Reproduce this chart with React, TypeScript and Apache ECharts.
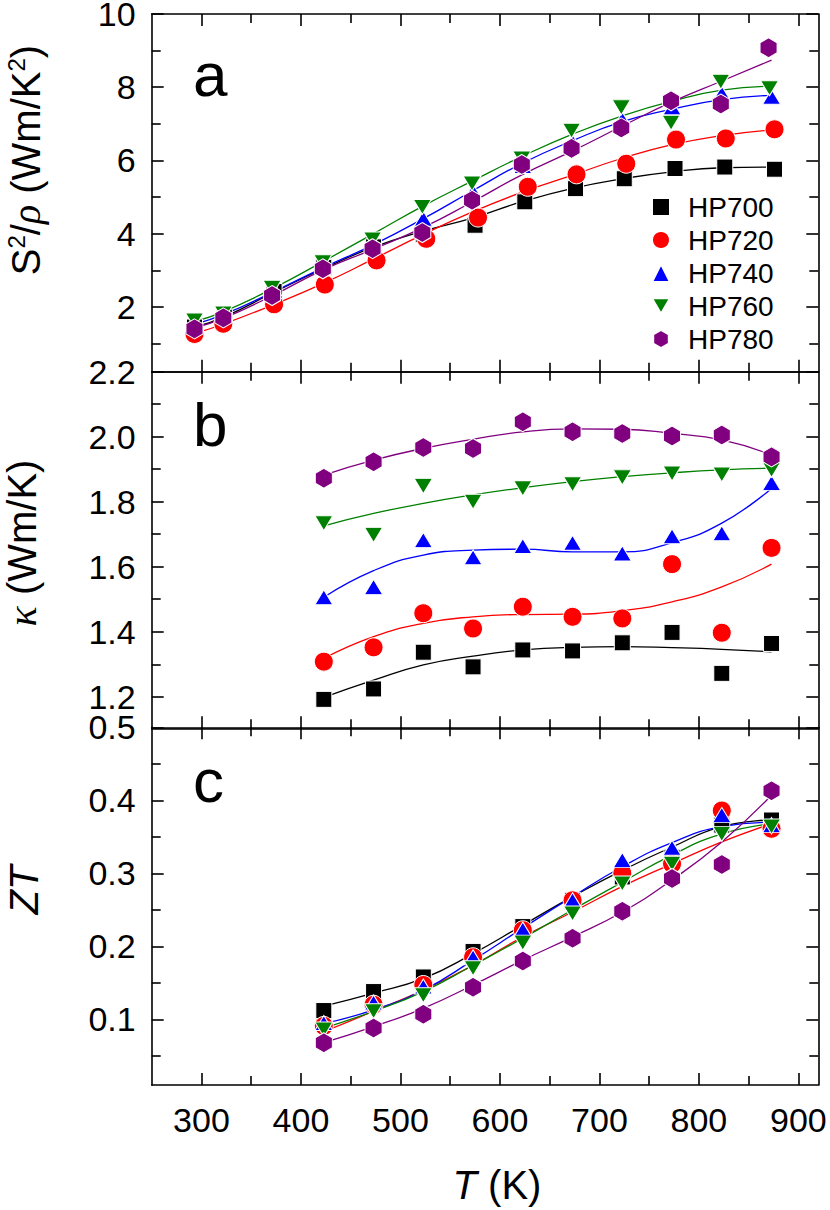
import React, { useEffect, useRef } from "react";
import * as echarts from "echarts";

// ---------- data ----------
const SAMPLES = ["HP700", "HP720", "HP740", "HP760", "HP780"];
const COLORS = ["#000000", "#ff0000", "#0000ff", "#008000", "#800080"];

// panel a : S^2/rho
const TA_700 = [293, 323, 373, 423, 473, 523, 575, 625, 676, 725, 776, 826, 876];
const TA_720 = [293, 322, 373, 424, 476, 526, 578, 628, 677, 727, 777, 827, 876];
const TA_740 = [293, 323, 373, 423, 473, 523, 573, 623, 673, 723, 773, 823, 873];
const TA_760 = [293, 322, 371, 422, 472, 522, 572, 622, 672, 722, 772, 822, 871];
const TA_780 = [293, 322, 371, 422, 472, 522, 572, 622, 672, 722, 772, 822, 870];
const A_700 = [1.45, 1.72, 2.42, 3.08, 3.64, 3.98, 4.23, 4.87, 5.23, 5.5, 5.78, 5.82, 5.76];
const A_720 = [1.26, 1.54, 2.07, 2.61, 3.27, 3.86, 4.44, 5.28, 5.62, 5.91, 6.57, 6.6, 6.85];
const A_740 = [1.55, 1.78, 2.45, 3.15, 3.72, 4.41, 5.15, 5.85, 6.5, 7.12, 7.45, 7.83, 7.74];
const A_760 = [1.63, 1.82, 2.52, 3.22, 3.84, 4.73, 5.37, 6.05, 6.81, 7.45, 7.03, 8.15, 7.97];
const A_780 = [1.4, 1.7, 2.31, 3.04, 3.59, 4.03, 4.91, 5.89, 6.33, 6.89, 7.63, 7.54, 9.08];
const TA_FIT = [293, 323, 373, 423, 473, 523, 573, 623, 673, 723, 773, 823, 873];
const FA_700 = [1.45, 1.73, 2.4, 3.05, 3.63, 4.07, 4.43, 4.88, 5.24, 5.5, 5.69, 5.8, 5.82];
const FA_720 = [1.27, 1.54, 2.07, 2.65, 3.31, 3.98, 4.6, 5.14, 5.6, 6.06, 6.43, 6.68, 6.83];
const FA_740 = [1.52, 1.8, 2.42, 3.08, 3.7, 4.41, 5.18, 5.93, 6.54, 7.06, 7.4, 7.66, 7.78];
const FA_760 = [1.6, 1.88, 2.52, 3.25, 4.0, 4.76, 5.45, 6.12, 6.72, 7.22, 7.62, 7.92, 8.03];
const FA_780 = [1.42, 1.7, 2.33, 3.02, 3.58, 4.17, 4.88, 5.62, 6.26, 6.94, 7.6, 8.17, 8.74];

// panels b and c share temperatures
const T_BC = [423, 473, 523, 573, 623, 673, 723, 773, 823, 873];

// panel b : kappa
const B_700 = [1.192, 1.224, 1.337, 1.292, 1.344, 1.341, 1.366, 1.398, 1.272, 1.364];
const B_720 = [1.308, 1.352, 1.457, 1.41, 1.477, 1.446, 1.441, 1.608, 1.397, 1.658];
const B_740 = [1.506, 1.538, 1.682, 1.629, 1.664, 1.674, 1.641, 1.694, 1.703, 1.858];
const B_760 = [1.734, 1.698, 1.848, 1.8, 1.841, 1.854, 1.875, 1.887, 1.884, 1.898];
const B_780 = [1.872, 1.923, 1.967, 1.964, 2.046, 2.015, 2.01, 2.002, 2.005, 1.938];
const FB_700 = [1.198, 1.251, 1.298, 1.325, 1.344, 1.352, 1.354, 1.351, 1.346, 1.338];
const FB_720 = [1.318, 1.385, 1.426, 1.446, 1.453, 1.454, 1.465, 1.492, 1.538, 1.608];
const FB_740 = [1.506, 1.588, 1.636, 1.651, 1.654, 1.646, 1.646, 1.674, 1.734, 1.841];
const FB_760 = [1.726, 1.764, 1.795, 1.821, 1.843, 1.862, 1.877, 1.889, 1.898, 1.903];
const FB_780 = [1.882, 1.928, 1.964, 1.992, 2.015, 2.024, 2.023, 2.01, 1.99, 1.944];

// panel c : ZT
const C_700 = [0.112, 0.138, 0.158, 0.193, 0.227, 0.263, 0.295, 0.322, 0.366, 0.373];
const C_720 = [0.091, 0.12, 0.147, 0.185, 0.222, 0.263, 0.3, 0.313, 0.386, 0.361];
const C_740 = [0.095, 0.123, 0.145, 0.185, 0.223, 0.263, 0.318, 0.335, 0.38, 0.366];
const C_760 = [0.086, 0.111, 0.133, 0.17, 0.205, 0.245, 0.286, 0.313, 0.354, 0.364];
const C_780 = [0.068, 0.088, 0.107, 0.144, 0.18, 0.211, 0.248, 0.293, 0.312, 0.413];
const FC_700 = [0.118, 0.136, 0.156, 0.19, 0.229, 0.268, 0.304, 0.336, 0.364, 0.373];
const FC_720 = [0.083, 0.111, 0.14, 0.174, 0.213, 0.247, 0.282, 0.313, 0.343, 0.368];
const FC_740 = [0.094, 0.113, 0.14, 0.181, 0.225, 0.268, 0.309, 0.342, 0.364, 0.37];
const FC_760 = [0.088, 0.111, 0.138, 0.174, 0.211, 0.25, 0.288, 0.325, 0.354, 0.368];
const FC_780 = [0.068, 0.09, 0.115, 0.147, 0.181, 0.213, 0.247, 0.291, 0.343, 0.407];

// ticks
const X_MAJOR = [300, 400, 500, 600, 700, 800, 900];
const X_MINOR = [350, 450, 550, 650, 750, 850];
const YA_MAJOR = [2, 4, 6, 8, 10];
const YA_MINOR = [1, 3, 5, 7, 9];
const YB_MAJOR = [1.2, 1.4, 1.6, 1.8, 2.0, 2.2];
const YB_MINOR = [1.3, 1.5, 1.7, 1.9, 2.1];
const YC_MAJOR = [0.1, 0.2, 0.3, 0.4, 0.5];
const YC_MINOR = [0.05, 0.15, 0.25, 0.35, 0.45];

// ---------- styling ----------
const FONT = '"Liberation Sans", Arial, sans-serif';
const SERIF = '"Liberation Serif", "DejaVu Serif", serif';
const HEX = "path://M1,0 L1.866,0.5 L1.866,1.5 L1,2 L0.134,1.5 L0.134,0.5 Z";
const DOWN_TRI = "path://M0,0 L2,0 L1,1.7 Z";
const SYMBOLS: any[] = ["rect", "circle", "triangle", DOWN_TRI, HEX];
const SIZES: any[] = [16, 19, [18, 15], [18, 15], [17, 20]];

const LEFT = 151.7;
const RIGHT = 830 - 818.3;
const GRIDS = [
  { top: 14, height: 357.7 },
  { top: 371.7, height: 356.6 },
  { top: 727.3, height: 357.7 },
];
const AXIS_LINE = { color: "#000", width: 1.6 };

function xAxes(g: number, showLabels: boolean) {
  const base = {
    type: "value",
    gridIndex: g,
    min: 250,
    max: 920,
    splitLine: { show: false },
  };
  const major = (pos: string, labels: boolean) => ({
    ...base,
    position: pos,
    axisLine: { show: true, onZero: false, lineStyle: AXIS_LINE },
    axisTick: { show: true, inside: true, length: 12, customValues: X_MAJOR, lineStyle: AXIS_LINE },
    axisLabel: {
      show: labels,
      customValues: X_MAJOR,
      fontSize: 34,
      fontFamily: FONT,
      color: "#000",
      margin: 18,
    },
  });
  const minor = (pos: string) => ({
    ...base,
    position: pos,
    axisLine: { show: false, onZero: false },
    axisTick: { show: true, inside: true, length: 9, customValues: X_MINOR, lineStyle: AXIS_LINE },
    axisLabel: { show: false },
  });
  return [major("bottom", showLabels), major("top", false), minor("bottom"), minor("top")];
}

function yAxes(g: number, min: number, max: number, majorV: number[], minorV: number[], digits: number) {
  const base = {
    type: "value",
    gridIndex: g,
    min,
    max,
    splitLine: { show: false },
  };
  const major = (pos: string, labels: boolean) => ({
    ...base,
    position: pos,
    axisLine: { show: true, onZero: false, lineStyle: AXIS_LINE },
    axisTick: { show: true, inside: true, length: 12, customValues: majorV, lineStyle: AXIS_LINE },
    axisLabel: {
      show: labels,
      customValues: majorV,
      fontSize: 34,
      fontFamily: FONT,
      color: "#000",
      margin: 16,
      formatter: (v: number) => v.toFixed(digits),
    },
  });
  const minor = (pos: string) => ({
    ...base,
    position: pos,
    axisLine: { show: false, onZero: false },
    axisTick: { show: true, inside: true, length: 9, customValues: minorV, lineStyle: AXIS_LINE },
    axisLabel: { show: false },
  });
  return [major("left", true), major("right", false), minor("left"), minor("right")];
}

function pairs(xs: number[], ys: number[]) {
  return ys.map((y, i) => [xs[i], y]);
}

function panelSeries(g: number, xsList: number[][], data: number[][], fitX: number[], fits: number[][]) {
  const out: any[] = [];
  fits.forEach((f, i) => {
    out.push({
      type: "line",
      name: "fit-" + SAMPLES[i] + "-" + g,
      xAxisIndex: g * 4,
      yAxisIndex: g * 4,
      data: pairs(fitX, f),
      smooth: true,
      showSymbol: false,
      symbol: "none",
      lineStyle: { color: COLORS[i], width: 1.3 },
      z: 2,
      silent: true,
    });
  });
  data.forEach((d, i) => {
    out.push({
      type: "scatter",
      name: SAMPLES[i],
      xAxisIndex: g * 4,
      yAxisIndex: g * 4,
      data: pairs(xsList[i], d),
      symbol: SYMBOLS[i],
      symbolSize: SIZES[i],
      itemStyle: { color: COLORS[i], borderColor: "#ffffff", borderWidth: 1, opacity: 1 },
      z: 3 + i,
    });
  });
  return out;
}

function vtext(text: string, x: number, y: number, rich: any) {
  return {
    type: "text",
    x,
    y,
    rotation: Math.PI / 2,
    style: {
      text,
      rich,
      fill: "#000",
      align: "center",
      verticalAlign: "middle",
      textAlign: "center",
      textVerticalAlign: "middle",
    },
  };
}

function letter(t: string, y: number) {
  return {
    type: "text",
    x: 193,
    y,
    style: {
      text: t,
      fill: "#000",
      font: `62px ${FONT}`,
      fontSize: 62,
      fontFamily: FONT,
      align: "left",
      verticalAlign: "middle",
      textAlign: "left",
      textVerticalAlign: "middle",
    },
  };
}

export default function App() {
  const ref = useRef<HTMLDivElement>(null);

  useEffect(() => {
    if (!ref.current) return;
    const chart = echarts.init(ref.current, undefined, { renderer: "svg" });

    const N = { fontSize: 40, fontFamily: FONT, lineHeight: 44 };
    const SUP = { fontSize: 24, fontFamily: FONT, verticalAlign: "top", lineHeight: 44, padding: [0, 0, 14, 0] };

    const option: any = {
      animation: false,
      backgroundColor: "#ffffff",
      grid: GRIDS.map((gr) => ({
        left: LEFT,
        right: RIGHT,
        top: gr.top,
        height: gr.height,
        containLabel: false,
        outerBoundsMode: "none",
        show: false,
      })),
      xAxis: [...xAxes(0, false), ...xAxes(1, false), ...xAxes(2, true)],
      yAxis: [
        ...yAxes(0, 0.23, 10, YA_MAJOR, YA_MINOR, 0),
        ...yAxes(1, 1.103, 2.2, YB_MAJOR, YB_MINOR, 1),
        ...yAxes(2, 0.01, 0.5, YC_MAJOR, YC_MINOR, 1),
      ],
      legend: {
        data: SAMPLES,
        orient: "vertical",
        left: 646,
        top: 188,
        itemWidth: 18,
        itemHeight: 18,
        itemGap: 5,
        selectedMode: false,
        textStyle: {
          fontSize: 28,
          lineHeight: 28,
          fontFamily: FONT,
          color: "#000",
          padding: [0, 0, 0, 13],
        },
      },
      series: [
        ...panelSeries(
          0,
          [TA_700, TA_720, TA_740, TA_760, TA_780],
          [A_700, A_720, A_740, A_760, A_780],
          TA_FIT,
          [FA_700, FA_720, FA_740, FA_760, FA_780]
        ),
        ...panelSeries(
          1,
          [T_BC, T_BC, T_BC, T_BC, T_BC],
          [B_700, B_720, B_740, B_760, B_780],
          T_BC,
          [FB_700, FB_720, FB_740, FB_760, FB_780]
        ),
        ...panelSeries(
          2,
          [T_BC, T_BC, T_BC, T_BC, T_BC],
          [C_700, C_720, C_740, C_760, C_780],
          T_BC,
          [FC_700, FC_720, FC_740, FC_760, FC_780]
        ),
      ],
      graphic: [
        letter("a", 74.5),
        letter("b", 424.5),
        letter("c", 780),
        vtext("{n|S}{s|2}{n|/}{g|ρ}{n| (Wm/K}{s|2}{n|)}", 26, 160, {
          n: N,
          s: SUP,
          g: { fontSize: 40, fontFamily: SERIF, fontStyle: "italic", lineHeight: 44 },
        }),
        vtext("{g|κ}{n| (Wm/K)}", 22, 543, {
          n: N,
          g: { fontSize: 42, fontFamily: SERIF, fontStyle: "italic", lineHeight: 44 },
        }),
        vtext("{i|ZT}", 24, 890, {
          i: { fontSize: 40, fontFamily: FONT, fontStyle: "italic", lineHeight: 44 },
        }),
        {
          type: "text",
          x: 497,
          y: 1185,
          style: {
            text: "{i|T}{n| (K)}",
            rich: {
              i: { fontSize: 40, fontFamily: FONT, fontStyle: "italic", lineHeight: 44 },
              n: N,
            },
            fill: "#000",
            align: "center",
            verticalAlign: "middle",
            textAlign: "center",
            textVerticalAlign: "middle",
          },
        },
      ],
    };

    chart.setOption(option);
    return () => chart.dispose();
  }, []);

  return (
    <div
      ref={ref}
      style={{ position: "fixed", left: 0, top: 0, width: 830, height: 1210, background: "#fff" }}
    />
  );
}
